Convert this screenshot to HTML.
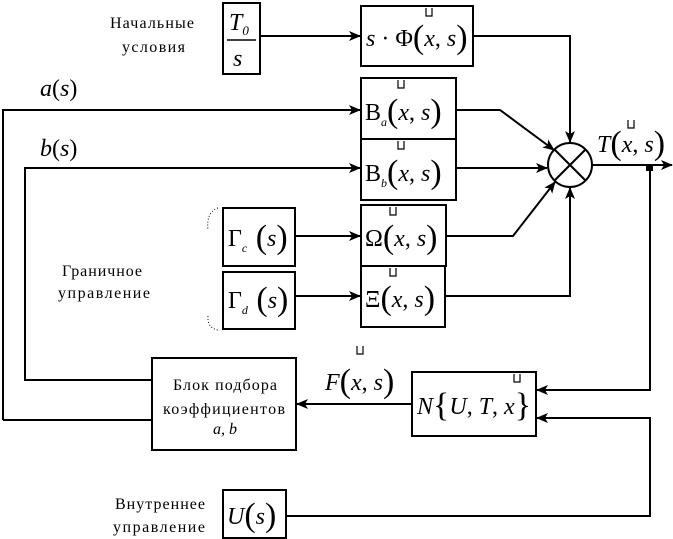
<!DOCTYPE html>
<html><head><meta charset="utf-8"><style>
body{margin:0;background:#fff}
svg{display:block}
text{font-family:"Liberation Serif",serif;fill:#000}
.i{font-style:italic}
.l{font-size:16px}
.p{font-size:34px}
</style></head><body>
<svg width="673" height="539" viewBox="0 0 673 539">
<defs><marker id="a" markerWidth="12" markerHeight="10" refX="11" refY="5" orient="auto" markerUnits="userSpaceOnUse"><path d="M0,0 L12,5 L0,10 L3,5 Z" fill="#000"/></marker></defs>
<g fill="none" stroke="#000" stroke-width="2">
<rect x="223" y="3" width="37" height="71"/>
<rect x="361" y="6" width="112" height="60"/>
<rect x="361" y="78" width="95" height="61"/>
<rect x="361" y="139" width="95" height="61"/>
<rect x="223" y="208" width="72" height="58"/>
<rect x="223" y="272" width="72" height="57"/>
<rect x="361" y="205" width="85" height="61"/>
<rect x="361" y="266" width="84" height="61"/>
<rect x="152" y="358" width="144" height="92"/>
<rect x="412" y="372" width="124" height="64"/>
<rect x="223" y="490" width="63" height="48"/>
<circle cx="570" cy="165" r="22"/>
<line x1="554" y1="149" x2="586" y2="181"/><line x1="586" y1="149" x2="554" y2="181"/>
<path d="M260 36 H360" marker-end="url(#a)"/>
<path d="M473 36 H570 V142" marker-end="url(#a)"/>
<path d="M3 420 V110 H360" marker-end="url(#a)"/>
<path d="M152 420 H3"/>
<path d="M152 380 H25 V168 H360" marker-end="url(#a)"/>
<path d="M456 110 H500 L554 150" marker-end="url(#a)"/>
<path d="M456 168 H547" marker-end="url(#a)"/>
<path d="M446 236 H513 L555 182" marker-end="url(#a)"/>
<path d="M445 296 H570 V188" marker-end="url(#a)"/>
<path d="M295 236 H360" marker-end="url(#a)"/>
<path d="M295 296 H360" marker-end="url(#a)"/>
<path d="M592 165 H672" marker-end="url(#a)"/>
<path d="M650 168 V390 H537" marker-end="url(#a)"/>
<path d="M286 516 H650 V418 H537" marker-end="url(#a)"/>
<path d="M412 404 H297" marker-end="url(#a)"/>
<path d="M218 208 Q206 212 208 230 M208 316 Q207 328 218 330" stroke-width="1" stroke-dasharray="1,2"/>
</g>
<rect x="646" y="164" width="7" height="7" fill="#000"/>
<g class="l">
<text x="110" y="28" textLength="84">Начальные</text><text x="122" y="52" textLength="63">условия</text>
<text x="62" y="276" textLength="80">Граничное</text><text x="58" y="298" textLength="92">управление</text>
<text x="115" y="509" textLength="90">Внутреннее</text><text x="113" y="532" textLength="92">управление</text>
<text x="173" y="390" textLength="104">Блок подбора</text><text x="163" y="414" textLength="122">коэффициентов</text><text x="213" y="434" class="i">a, b</text>
</g>
<g font-size="24">
<text x="229" y="30" class="i">T<tspan font-size="13" dy="5">0</tspan></text>
<line x1="227" y1="40" x2="256" y2="40" stroke="#000" stroke-width="1.5"/>
<text x="233" y="66" class="i">s</text>
<text x="366" y="46"><tspan class="i">s</tspan> · Φ<tspan class="p" dy="2">(</tspan><tspan class="i" dy="-2">x</tspan>, <tspan class="i">s</tspan><tspan class="p" dy="2">)</tspan></text>
<text x="365" y="120">B<tspan font-size="12" dy="6" class="i">a</tspan><tspan dy="-4" class="p">(</tspan><tspan class="i" dy="-2">x</tspan>, <tspan class="i">s</tspan><tspan class="p" dy="2">)</tspan></text>
<text x="365" y="181">B<tspan font-size="12" dy="6" class="i">b</tspan><tspan dy="-4" class="p">(</tspan><tspan class="i" dy="-2">x</tspan>, <tspan class="i">s</tspan><tspan class="p" dy="2">)</tspan></text>
<text x="228" y="246">Γ<tspan font-size="12" dy="6" class="i">c</tspan><tspan dy="-4" class="p"> (</tspan><tspan class="i" dy="-2">s</tspan><tspan class="p" dy="2">)</tspan></text>
<text x="228" y="308">Γ<tspan font-size="12" dy="6" class="i">d</tspan><tspan dy="-4" class="p"> (</tspan><tspan class="i" dy="-2">s</tspan><tspan class="p" dy="2">)</tspan></text>
<text x="365" y="246">Ω<tspan class="p" dy="2">(</tspan><tspan class="i" dy="-2">x</tspan>, <tspan class="i">s</tspan><tspan class="p" dy="2">)</tspan></text>
<text x="365" y="307">Ξ<tspan class="p" dy="2">(</tspan><tspan class="i" dy="-2">x</tspan>, <tspan class="i">s</tspan><tspan class="p" dy="2">)</tspan></text>
<text x="40" y="96"><tspan class="i">a</tspan>(<tspan class="i">s</tspan>)</text>
<text x="40" y="156"><tspan class="i">b</tspan>(<tspan class="i">s</tspan>)</text>
<text x="597" y="152"><tspan class="i">T</tspan><tspan class="p" dy="2">(</tspan><tspan class="i" dy="-2">x</tspan>, <tspan class="i">s</tspan><tspan class="p" dy="2">)</tspan></text>
<text x="325" y="390"><tspan class="i">F</tspan><tspan class="p" dy="2">(</tspan><tspan class="i" dy="-2">x</tspan>, <tspan class="i">s</tspan><tspan class="p" dy="2">)</tspan></text>
<text x="417" y="414"><tspan class="i">N</tspan><tspan class="p" dy="2">{</tspan><tspan class="i" dy="-2">U</tspan>, <tspan class="i">T</tspan>, <tspan class="i">x</tspan><tspan class="p" dy="2">}</tspan></text>
<text x="227" y="524"><tspan class="i">U</tspan><tspan class="p" dy="2">(</tspan><tspan class="i" dy="-2">s</tspan><tspan class="p" dy="2">)</tspan></text>
</g>
<g fill="none" stroke="#000" stroke-width="1.2">
<path d="M426 8 v8 h6 v-8"/><path d="M398 80 v8 h6 v-8"/><path d="M398 141 v8 h6 v-8"/>
<path d="M390 207 v8 h6 v-8"/><path d="M390 268 v8 h6 v-8"/><path d="M628 120 v8 h6 v-8"/>
<path d="M357 346 v8 h6 v-8"/><path d="M514 374 v8 h6 v-8"/>
</g>
</svg>
</body></html>
